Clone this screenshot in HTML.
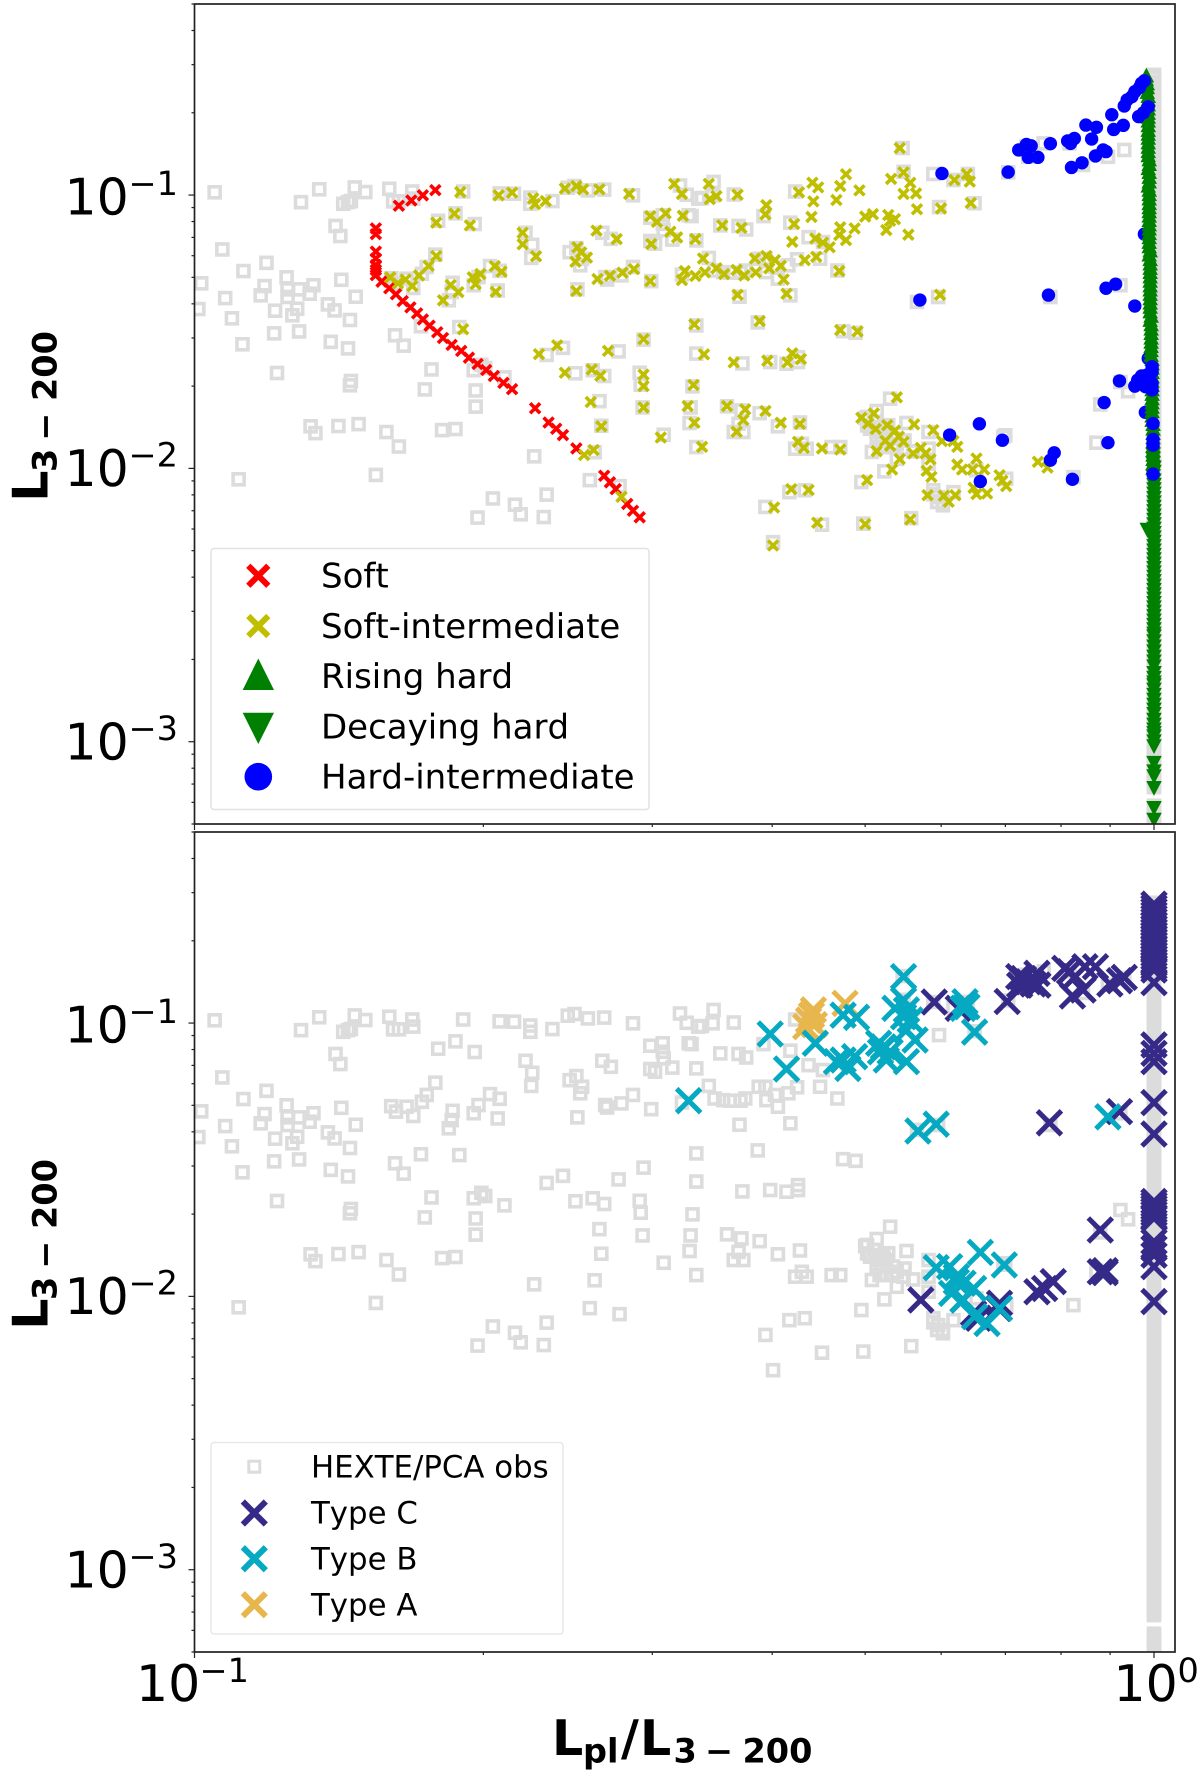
<!DOCTYPE html>
<html lang="en">
<head>
<meta charset="utf-8">
<title>Power-law fraction vs luminosity</title>
<style>
  html, body { margin: 0; padding: 0; background: #fff; }
  svg { display: block; font-family: "DejaVu Sans", "Liberation Sans", sans-serif; text-rendering: geometricPrecision; font-kerning: none; }
</style>
</head>
<body>
<svg id="chart" xmlns="http://www.w3.org/2000/svg" width="1200" height="1779" viewBox="0 0 1200 1779">
  <defs>
    <clipPath id="clip-top"><rect x="194.5" y="4" width="980.5" height="820"/></clipPath>
    <clipPath id="clip-bottom"><rect x="194.5" y="832" width="980.5" height="820"/></clipPath>
  </defs>
  <rect x="0" y="0" width="1200" height="1779" fill="#fff"/>
  <g id="panel-top-marks" clip-path="url(#clip-top)"></g>
  <g id="panel-bottom-marks" clip-path="url(#clip-bottom)"></g>
  <g id="axes"></g>

  <g>
    <rect x="211" y="548.5" width="438" height="261" rx="3" fill="#fff" fill-opacity="0.9" stroke="#e2e2e2" stroke-width="1.5"/>
    <g>
      <path d="M248.3 565.7L268.3 585.7M248.3 585.7L268.3 565.7" stroke="#ff0000" stroke-width="6" fill="none"/>
      <text x="321" y="587.7" font-size="34" fill="#000">Soft</text>
    </g>
    <g>
      <path d="M248.3 616L268.3 636M248.3 636L268.3 616" stroke="#bfbf00" stroke-width="6" fill="none"/>
      <text x="321" y="637.9" font-size="34" fill="#000">Soft-intermediate</text>
    </g>
    <g>
      <path d="M258.3 658.5L274 690H242.7Z" fill="#008000"/>
      <text x="321" y="688" font-size="34" fill="#000">Rising hard</text>
    </g>
    <g>
      <path d="M242.7 712.7H274L258.3 744Z" fill="#008000"/>
      <text x="321" y="738.3" font-size="34" fill="#000">Decaying hard</text>
    </g>
    <g>
      <circle cx="258.3" cy="776.7" r="13.8" fill="#0000ff"/>
      <text x="321" y="788.4" font-size="34" fill="#000">Hard-intermediate</text>
    </g>
  </g>

  <g>
    <rect x="211" y="1442.5" width="352" height="191.5" rx="3" fill="#fff" fill-opacity="0.9" stroke="#e8e8e8" stroke-width="1.5"/>
    <g>
      <rect x="248.8" y="1461.2" width="11" height="11" fill="none" stroke="#dcdcdc" stroke-width="3"/>
      <text x="311" y="1477.7" font-size="30.8" fill="#000">HEXTE/PCA obs</text>
    </g>
    <g>
      <path d="M242.8 1501.5L265.8 1524.5M242.8 1524.5L265.8 1501.5" stroke="#352a87" stroke-width="6" fill="none"/>
      <text x="311" y="1523.7" font-size="30.8" fill="#000">Type C</text>
    </g>
    <g>
      <path d="M242.8 1547.2L265.8 1570.2M242.8 1570.2L265.8 1547.2" stroke="#06a9c2" stroke-width="6" fill="none"/>
      <text x="311" y="1569.4" font-size="30.8" fill="#000">Type B</text>
    </g>
    <g>
      <path d="M242.8 1593.2L265.8 1616.2M242.8 1616.2L265.8 1593.2" stroke="#e7b64c" stroke-width="6" fill="none"/>
      <text x="311" y="1615.3" font-size="30.8" fill="#000">Type A</text>
    </g>
  </g>

  <text transform="translate(47.7,501.7) rotate(-90)" font-weight="bold" font-size="49" fill="#000">L<tspan x="29.7" y="9" font-size="33.5">3</tspan><tspan x="61" y="9" font-size="33.5">−</tspan><tspan x="100.7" y="9" font-size="33.5">200</tspan></text>
  <text transform="translate(47.7,1329.7) rotate(-90)" font-weight="bold" font-size="49" fill="#000">L<tspan x="29.7" y="9" font-size="33.5">3</tspan><tspan x="61" y="9" font-size="33.5">−</tspan><tspan x="100.7" y="9" font-size="33.5">200</tspan></text>
  <text x="552" y="1755" font-weight="bold" font-size="49" fill="#000">L<tspan x="583" y="1762.7" font-size="33.5">pl</tspan><tspan x="621" y="1755">/</tspan><tspan x="640" y="1755">L</tspan><tspan x="673.5" y="1762.7" font-size="33.5">3</tspan><tspan x="705" y="1762.7" font-size="33.5">−</tspan><tspan x="742.5" y="1762.7" font-size="33.5">200</tspan></text>
</svg>

<script>
// All series values are log10 quantities: [log10(Lpl/L3-200), log10(L3-200)].
const xTickExponents = [-1, 0];
const xTickLabels = ['−1', '0'];
const yTickExponents = [-1, -2, -3];
const yTickLabels = ['−1', '−2', '−3'];
const minorMultipliers = [2, 3, 4, 5, 6, 7, 8, 9];

const hexteObservations = [
[-0.979,-0.990],[-0.889,-1.026],[-0.870,-0.979],[-0.833,-0.972],[-0.822,-0.989],[-0.840,-1.026],[-0.845,-1.032],[-0.837,-1.022],[-0.797,-0.977],[-0.793,-1.023],[-0.787,-1.023],[-0.773,-0.987],[-0.772,-1.013],[-0.720,-0.987],[-0.682,-0.994],[-0.667,-0.995],[-0.650,-1.009],[-0.650,-1.032],[-0.627,-1.022],[-0.611,-0.973],[-0.604,-0.967],[-0.590,-0.983],[-0.573,-0.980],[-0.543,-1.001],[-0.494,-0.965],[-0.487,-0.999],[-0.475,-1.013],
[-0.746,-1.094],[-0.728,-1.067],[-0.708,-1.106],[-0.655,-1.138],[-0.648,-1.182],[-0.649,-1.230],[-0.853,-1.113],[-0.848,-1.150],[-0.971,-1.199],[-0.575,-1.138],[-0.566,-1.160],[-0.525,-1.083],[-0.512,-1.074],[-0.512,-1.105],[-0.511,-1.129],[-0.502,-1.163],[-0.525,-1.168],[-0.520,-1.178],[-0.485,-1.074],[-0.482,-1.077],[-0.477,-1.166],[-0.609,-1.209],[-0.602,-1.194],[-0.596,-1.233],[-0.598,-1.257],
[-0.925,-1.248],[-0.949,-1.278],[-0.904,-1.301],[-0.927,-1.333],[-0.931,-1.367],[-0.968,-1.377],[-0.993,-1.323],[-0.996,-1.417],[-0.961,-1.451],[-0.916,-1.423],[-0.903,-1.345],[-0.903,-1.373],[-0.891,-1.345],[-0.876,-1.330],[-0.880,-1.361],[-0.893,-1.416],[-0.898,-1.440],[-0.847,-1.310],[-0.832,-1.372],[-0.861,-1.400],[-0.854,-1.422],[-0.838,-1.457],[-0.917,-1.506],[-0.891,-1.499],[-0.950,-1.546],[-0.858,-1.537],[-0.840,-1.561],[-0.795,-1.304],[-0.790,-1.324],[-0.779,-1.306],[-0.772,-1.340],[-0.763,-1.288],[-0.758,-1.263],[-0.749,-1.218],[-0.731,-1.321],[-0.732,-1.355],[-0.735,-1.385],[-0.709,-1.330],[-0.704,-1.300],[-0.692,-1.260],[-0.682,-1.277],[-0.684,-1.349],[-0.601,-1.345],[-0.572,-1.300],[-0.570,-1.309],[-0.555,-1.294],[-0.543,-1.263],[-0.524,-1.315],[-0.492,-1.291],
[-0.764,-1.480],[-0.724,-1.483],[-0.791,-1.513],[-0.782,-1.551],[-0.633,-1.585],[-0.616,-1.559],[-0.558,-1.572],[-0.532,-1.529],[-0.477,-1.477],[-0.477,-1.580],
[-0.914,-1.651],[-0.753,-1.638],[-0.709,-1.641],[-0.701,-1.621],[-0.697,-1.633],[-0.677,-1.667],[-0.837,-1.680],[-0.838,-1.696],[-0.760,-1.711],[-0.707,-1.715],[-0.707,-1.774],[-0.603,-1.652],[-0.585,-1.641],[-0.573,-1.662],[-0.536,-1.650],[-0.535,-1.694],[-0.481,-1.700],[-0.578,-1.754],[-0.533,-1.777],[-0.483,-1.777],[-0.576,-1.844],[-0.484,-1.834],[-0.477,-1.922],[-0.879,-1.846],[-0.874,-1.871],[-0.850,-1.845],[-0.829,-1.838],[-0.800,-1.867],[-0.787,-1.920],[-0.742,-1.860],[-0.728,-1.856],[-0.646,-1.956],[-0.583,-1.941],[-0.511,-1.877],
[-0.954,-2.040],[-0.811,-2.024],[-0.689,-2.110],[-0.666,-2.133],[-0.660,-2.168],[-0.705,-2.180],[-0.636,-2.178],[-0.633,-2.096],[-0.588,-2.043],[-0.557,-2.065],
[-0.459,-0.952],[-0.471,-1.011],[-0.460,-1.001],[-0.438,-0.998],[-0.452,-1.111],[-0.433,-1.113],[-0.425,-1.126],[-0.407,-1.077],[-0.379,-1.101],[-0.360,-1.154],[-0.345,-1.172],[-0.412,-1.233],[-0.405,-1.233],[-0.464,-1.230],[-0.458,-1.276],[-0.449,-1.282],[-0.442,-1.284],[-0.431,-1.284],[-0.426,-1.276],[-0.404,-1.282],[-0.395,-1.263],[-0.392,-1.306],[-0.381,-1.257],[-0.372,-1.235],[-0.348,-1.233],[-0.330,-1.276],[-0.432,-1.372],[-0.379,-1.367],[-0.413,-1.466],[-0.324,-1.498],[-0.311,-1.504],[-0.224,-1.044],[-0.374,-0.987],
[-0.429,-1.616],[-0.400,-1.611],[-0.383,-1.617],[-0.371,-1.593],[-0.371,-1.611],[-0.445,-1.773],[-0.430,-1.788],[-0.411,-1.798],[-0.433,-1.837],[-0.438,-1.867],[-0.428,-1.867],[-0.392,-1.846],[-0.369,-1.832],[-0.374,-1.928],[-0.362,-1.928],[-0.367,-1.910],[-0.336,-1.922],[-0.327,-1.922],
[-0.275,-1.745],[-0.289,-1.790],[-0.301,-1.816],[-0.299,-1.843],[-0.286,-1.849],[-0.258,-1.834],[-0.289,-1.867],[-0.279,-1.867],[-0.284,-1.891],[-0.272,-1.891],[-0.279,-1.922],[-0.294,-1.940],[-0.260,-1.898],[-0.268,-1.965],[-0.251,-1.938],[-0.235,-1.867],[-0.281,-2.011],[-0.305,-2.050],[-0.364,-2.080],[-0.380,-2.087],[-0.405,-2.141],[-0.346,-2.206],[-0.303,-2.202],[-0.253,-2.182],[-0.397,-2.270],[-0.230,-2.095],[-0.220,-2.123],[-0.225,-2.105],[-0.209,-2.087],[-0.084,-2.032],[-0.035,-1.684],[-0.027,-1.718],[-0.235,-1.928],[-0.235,-1.983],[-0.155,-1.879],[-0.185,-2.007],[-0.154,-2.038],
[-0.296,-1.855],[-0.282,-1.855],[-0.289,-1.891],[-0.272,-1.922],[-0.286,-1.922],[-0.268,-1.910],[-0.261,-1.928],[-0.299,-1.812],[-0.292,-1.830],[-0.277,-1.842],[-0.230,-2.080],[-0.220,-2.135],[-0.226,-2.123],
[-0.031,-0.835],[-0.048,-0.860],[-0.074,-0.890],[-0.088,-0.811],[-0.152,-0.917],[-0.230,-0.923],[-0.194,-0.923],[-0.209,-0.945],[-0.133,-0.823],[-0.115,-0.811],[-0.131,-0.860],[-0.262,-0.828],[-0.187,-1.030],[-0.261,-0.915],[-0.247,-1.391],[-0.108,-1.373],[-0.035,-1.330],[-0.225,-1.373],[-0.056,-1.766],[-0.060,-1.906],[-0.157,-1.884]
];

const hexteHardColumnX = 0;
const hexteHardColumnY = [
-0.560,-0.571,-0.585,-0.597,-0.609,-0.623,-0.634,-0.648,-0.659,-0.673,-0.684,-0.697,-0.711,-0.722,-0.735,-0.746,-0.760,-0.772,-0.785,-0.796,-0.810,-0.822,-0.835,-0.847,-0.859,-0.873,-0.884,-0.897,-0.910,-0.921,-0.935,-0.946,-0.960,-0.972,-0.984,-0.997,-1.009,-1.023,-1.034,-1.047,-1.060,-1.071,-1.085,-1.096,-1.110,-1.121,-1.134,-1.147,-1.159,-1.172,-1.185,-1.197,-1.209,-1.223,-1.234,-1.247,-1.260,-1.271,-1.285,-1.297,-1.310,-1.322,-1.334,-1.347,-1.359,-1.372,-1.384,-1.398,-1.409,-1.422,-1.434,-1.446,-1.460,-1.471,-1.485,-1.497,-1.509,-1.522,-1.535,-1.547,-1.559,-1.572,-1.584,-1.597,-1.610,-1.621,-1.635,-1.646,-1.660,-1.672,-1.684,-1.697,-1.709,-1.722,-1.734,-1.748,-1.759,-1.772,-1.785,-1.796,-1.810,-1.821,-1.835,-1.847,-1.859,-1.872,-1.884,-1.898,-1.909,-1.922,-1.935,-1.946,-1.960,-1.971,-1.984,-1.997,-2.009,-2.022,-2.034,-2.047,-2.060,-2.071,-2.085,-2.097,-2.109,-2.122,-2.134,-2.148,-2.159,-2.172,-2.184,-2.197,-2.210,-2.221,-2.235,-2.246,-2.260,-2.272,-2.284,-2.297,-2.310,-2.322,-2.334,-2.347,-2.359,-2.373,-2.384,-2.397,-2.409,-2.422,-2.435,-2.446,-2.460,-2.471,-2.484,-2.497,-2.510,-2.522,-2.534,-2.547,-2.559,-2.572,-2.585,-2.596,-2.610,-2.622,-2.634,-2.647,-2.659,-2.673,-2.684,-2.697,-2.710,-2.722,-2.735,-2.746,-2.760,-2.771,-2.784,-2.797,-2.809,-2.823,-2.834,-2.847,-2.859,-2.872,-2.885,-2.896,-2.910,-2.922,-2.934,-2.947,-2.960,-2.971,-2.985,-2.997,-3.009,-3.022,-3.034,-3.047,-3.059,-3.073,-3.084,-3.097,-3.110,-3.121,-3.135,-3.146,-3.156,-3.166,-3.234,-3.245,-3.258,-3.270,-3.282,-3.294,-3.306,-3.318
];

const softPoints = [
[-0.787,-1.039],[-0.774,-1.020],[-0.762,-1.001],[-0.749,-0.982],[-0.811,-1.122],[-0.811,-1.143],[-0.811,-1.207],[-0.811,-1.232],[-0.811,-1.256],[-0.811,-1.274],[-0.811,-1.293],[-0.805,-1.317],[-0.797,-1.341],[-0.790,-1.363],[-0.783,-1.388],[-0.775,-1.411],[-0.768,-1.433],[-0.762,-1.455],[-0.755,-1.478],[-0.747,-1.502],[-0.741,-1.523],[-0.732,-1.548],[-0.722,-1.570],[-0.714,-1.595],[-0.705,-1.618],[-0.696,-1.640],[-0.688,-1.662],[-0.678,-1.687],[-0.669,-1.710],[-0.645,-1.780],[-0.631,-1.832],[-0.623,-1.855],[-0.616,-1.878],[-0.602,-1.927],[-0.573,-2.027],[-0.567,-2.051],[-0.561,-2.076],[-0.549,-2.130],[-0.543,-2.155],[-0.536,-2.179]
];

const softIntermediatePoints = [
[-0.723,-0.989],[-0.683,-1.001],[-0.669,-0.991],[-0.647,-1.012],[-0.645,-1.033],[-0.634,-1.022],[-0.614,-0.976],[-0.602,-0.967],[-0.595,-0.979],[-0.578,-0.979],[-0.547,-0.996],[-0.500,-0.959],[-0.492,-0.996],[-0.729,-1.068],[-0.748,-1.101],[-0.713,-1.111],[-0.658,-1.138],[-0.658,-1.180],[-0.644,-1.224],[-0.581,-1.130],[-0.560,-1.161],[-0.525,-1.077],[-0.518,-1.098],[-0.509,-1.067],[-0.491,-1.076],[-0.504,-1.134],[-0.497,-1.155],[-0.524,-1.179],[-0.478,-1.161],[-0.601,-1.191],[-0.597,-1.210],[-0.591,-1.229],[-0.603,-1.244],[-0.748,-1.223],[-0.756,-1.259],[-0.766,-1.294],[-0.796,-1.301],[-0.780,-1.309],[-0.788,-1.323],[-0.773,-1.333],[-0.733,-1.329],[-0.725,-1.355],[-0.741,-1.385],[-0.710,-1.301],[-0.702,-1.289],[-0.707,-1.326],[-0.687,-1.260],[-0.680,-1.280],[-0.686,-1.354],[-0.580,-1.307],[-0.567,-1.295],[-0.554,-1.284],[-0.542,-1.271],[-0.525,-1.315],[-0.602,-1.351],[-0.489,-1.278],[-0.492,-1.311],[-0.478,-1.296],[-0.720,-1.491],[-0.641,-1.582],[-0.622,-1.550],[-0.569,-1.570],[-0.532,-1.527],[-0.479,-1.473],[-0.614,-1.650],[-0.586,-1.638],[-0.577,-1.661],[-0.532,-1.657],[-0.532,-1.699],[-0.480,-1.695],[-0.587,-1.757],[-0.532,-1.777],[-0.486,-1.772],[-0.576,-1.846],[-0.479,-1.833],[-0.514,-1.887],[-0.584,-1.933],[-0.594,-1.951],[-0.555,-2.104],
[-0.265,-0.828],[-0.261,-0.917],[-0.274,-0.941],[-0.254,-0.955],[-0.195,-0.923],[-0.208,-0.945],[-0.192,-0.951],[-0.321,-0.924],[-0.356,-0.955],[-0.350,-0.972],[-0.327,-0.967],[-0.307,-0.983],[-0.370,-0.990],[-0.331,-1.018],[-0.261,-0.996],[-0.248,-0.994],[-0.355,-1.023],[-0.464,-0.959],[-0.463,-1.015],[-0.456,-1.004],[-0.434,-0.999],[-0.404,-1.037],[-0.405,-1.071],[-0.357,-1.080],[-0.375,-1.106],[-0.247,-1.052],[-0.222,-1.049],[-0.191,-1.029],[-0.450,-1.111],[-0.430,-1.120],[-0.377,-1.171],[-0.353,-1.159],[-0.345,-1.174],[-0.338,-1.191],[-0.327,-1.118],[-0.328,-1.146],[-0.321,-1.165],[-0.312,-1.122],[-0.301,-1.079],[-0.293,-1.070],[-0.277,-1.073],[-0.270,-1.088],[-0.275,-1.094],[-0.279,-1.128],[-0.256,-1.145],[-0.470,-1.232],[-0.468,-1.283],[-0.456,-1.268],[-0.448,-1.289],[-0.435,-1.274],[-0.427,-1.294],[-0.415,-1.283],[-0.416,-1.232],[-0.404,-1.223],[-0.395,-1.238],[-0.389,-1.259],[-0.401,-1.268],[-0.364,-1.238],[-0.352,-1.226],[-0.328,-1.278],[-0.386,-1.309],[-0.434,-1.365],[-0.383,-1.361],[-0.411,-1.461],[-0.327,-1.494],[-0.309,-1.499],[-0.223,-1.365],[-0.469,-1.583],[-0.438,-1.612],[-0.403,-1.606],[-0.382,-1.612],[-0.377,-1.579],[-0.368,-1.600],[-0.268,-1.740],[-0.445,-1.772],[-0.426,-1.784],[-0.405,-1.790],
[-0.428,-1.823],[-0.435,-1.866],[-0.389,-1.833],[-0.369,-1.837],[-0.371,-1.903],[-0.365,-1.925],[-0.346,-1.927],[-0.327,-1.931],[-0.471,-1.921],[-0.305,-1.815],[-0.292,-1.799],[-0.298,-1.836],[-0.290,-1.856],[-0.278,-1.842],[-0.270,-1.862],[-0.250,-1.839],[-0.230,-1.860],[-0.280,-1.899],[-0.289,-1.937],[-0.275,-1.917],[-0.266,-1.884],[-0.261,-1.903],[-0.265,-1.966],[-0.251,-1.945],[-0.243,-1.925],[-0.238,-1.945],[-0.233,-1.967],[-0.273,-2.004],[-0.237,-2.009],[-0.232,-2.031],[-0.221,-1.900],[-0.209,-1.900],[-0.205,-1.921],[-0.185,-1.964],[-0.205,-1.986],[-0.200,-2.004],[-0.189,-2.004],[-0.177,-2.004],[-0.161,-2.025],[-0.158,-2.045],[-0.154,-2.065],[-0.188,-2.071],[-0.185,-2.094],[-0.174,-2.092],[-0.121,-1.976],[-0.111,-1.997],[-0.299,-2.043],[-0.236,-2.098],[-0.219,-2.100],[-0.207,-2.098],[-0.214,-2.122],[-0.378,-2.076],[-0.360,-2.079],[-0.396,-2.143],[-0.351,-2.199],[-0.301,-2.204],[-0.254,-2.187],[-0.397,-2.282]
];

const hardIntermediateBehind = [
[-0.010,-1.143],[-0.009,-1.795],[-0.006,-1.598]
];

const risingHardPoints = [
[-0.008,-0.561],[-0.008,-0.575],[-0.007,-0.590],[-0.007,-0.604],[-0.007,-0.621],[-0.006,-0.636],[-0.006,-0.649],[-0.006,-0.667],[-0.006,-0.682],[-0.006,-0.698],[-0.006,-0.712],[-0.006,-0.726],[-0.006,-0.743],[-0.006,-0.760],[-0.006,-0.774],[-0.006,-0.789],[-0.006,-0.806],[-0.006,-0.822],[-0.006,-0.838],[-0.006,-0.853],[-0.005,-0.868],[-0.005,-0.885],[-0.006,-0.900],[-0.005,-0.914],[-0.005,-0.932],[-0.005,-0.949],[-0.006,-0.964],[-0.005,-0.979],[-0.005,-0.995],[-0.005,-1.011],[-0.005,-1.028],[-0.005,-1.043],[-0.005,-1.058],[-0.005,-1.074],[-0.005,-1.090],[-0.005,-1.106],[-0.005,-1.121],[-0.005,-1.138],[-0.005,-1.153],[-0.005,-1.170],[-0.005,-1.186],[-0.004,-1.201],[-0.005,-1.216],[-0.004,-1.233],[-0.004,-1.249],[-0.004,-1.265],[-0.004,-1.280],[-0.004,-1.296],[-0.004,-1.312],[-0.004,-1.329],[-0.004,-1.344],[-0.004,-1.360],[-0.004,-1.376],[-0.004,-1.392],[-0.004,-1.407],[-0.004,-1.424],[-0.003,-1.440],[-0.004,-1.455],[-0.003,-1.471],[-0.003,-1.487],[-0.003,-1.503],[-0.003,-1.520],[-0.003,-1.535],[-0.003,-1.551],[-0.003,-1.566],[-0.003,-1.583],[-0.002,-1.598],[-0.002,-1.614],[-0.002,-1.630],[-0.002,-1.646],[-0.002,-1.662],[-0.002,-1.678],[-0.002,-1.693],[-0.002,-1.709],[-0.002,-1.726],[-0.002,-1.742],[-0.002,-1.757],[-0.002,-1.773],[-0.002,-1.789],[-0.002,-1.805],[-0.002,-1.821],[-0.001,-1.836],[-0.001,-1.853],[-0.001,-1.869],[-0.001,-1.884],[-0.001,-1.900],[-0.001,-1.916],[-0.001,-1.932],[-0.001,-1.948],[-0.001,-1.964],[-0.001,-1.980],[-0.001,-1.996]
];

const decayingHardPoints = [
[-0.007,-2.226],[-0.001,-1.950],[-0.001,-1.966],[-0.001,-1.982],[0.000,-1.998],[0.000,-2.014],[-0.001,-2.030],[0.000,-2.046],[0.000,-2.062],[0.000,-2.078],[0.000,-2.094],[0.000,-2.110],[0.000,-2.126],[0.000,-2.142],[0.000,-2.158],[0.000,-2.174],[0.000,-2.190],[0.000,-2.206],[0.000,-2.222],[0.000,-2.238],[0.000,-2.254],[0.000,-2.270],[0.000,-2.286],[0.000,-2.302],[0.000,-2.318],[0.000,-2.334],[0.000,-2.350],[0.000,-2.366],[0.000,-2.382],[0.000,-2.398],[0.000,-2.414],[0.000,-2.430],[0.000,-2.446],[0.000,-2.462],[0.000,-2.478],[0.000,-2.494],[0.000,-2.510],[0.000,-2.526],[0.000,-2.542],[0.000,-2.558],[0.000,-2.574],[0.000,-2.590],[0.000,-2.606],[0.000,-2.616],[0.000,-2.634],[0.000,-2.653],[0.000,-2.671],[0.000,-2.690],[0.000,-2.708],[0.000,-2.726],[0.000,-2.750],[0.000,-2.768],[0.000,-2.785],[0.000,-2.795],[0.000,-2.811],[0.000,-2.830],[0.000,-2.848],[0.000,-2.866],[0.000,-2.884],[0.000,-2.900],[0.000,-2.921],[0.000,-2.939],[0.000,-2.957],[0.000,-2.970],[0.000,-2.982],[0.000,-3.000],[0.000,-3.018],[0.000,-3.079],[0.000,-3.110],[0.000,-3.128],[0.000,-3.171],[0.000,-3.244],[0.000,-3.287]
];

const hardIntermediatePoints = [
[-0.221,-0.921],[-0.152,-0.916],[-0.141,-0.835],[-0.133,-0.815],[-0.128,-0.820],[-0.131,-0.862],[-0.121,-0.862],[-0.108,-0.812],[-0.090,-0.802],[-0.087,-0.811],[-0.083,-0.793],[-0.065,-0.795],[-0.071,-0.744],[-0.060,-0.752],[-0.086,-0.899],[-0.075,-0.882],[-0.061,-0.857],[-0.053,-0.835],[-0.050,-0.841],[-0.044,-0.706],[-0.042,-0.760],[-0.032,-0.745],[-0.031,-0.674],[-0.028,-0.652],[-0.023,-0.640],[-0.020,-0.622],[-0.015,-0.606],[-0.013,-0.591],[-0.010,-0.582],[-0.016,-0.713],[-0.011,-0.699],[-0.006,-0.677],[-0.244,-1.384],[-0.110,-1.366],[-0.050,-1.341],[-0.040,-1.326],[-0.020,-1.406],[-0.036,-1.680],[-0.052,-1.759],[-0.020,-1.699],[-0.017,-1.677],[-0.013,-1.662],[-0.008,-1.659],[-0.002,-1.646],[-0.002,-1.628],[-0.006,-1.683],[-0.011,-1.695],[-0.002,-1.713],[-0.002,-1.689],[-0.009,-1.701],[-0.008,-1.672],[-0.014,-1.683],[-0.001,-1.836],[-0.001,-1.894],[-0.001,-1.915],[-0.001,-2.021],[-0.085,-2.040],[-0.048,-1.906],[-0.108,-1.970],[-0.104,-1.943],[-0.158,-1.897],[-0.182,-1.837],[-0.213,-1.878],[-0.181,-2.048]
];

const typeCPoints = [
[-0.229,-0.923],[-0.204,-0.946],[-0.153,-0.921],[-0.141,-0.830],[-0.136,-0.837],[-0.131,-0.849],[-0.126,-0.857],[-0.121,-0.861],[-0.140,-0.861],[-0.122,-0.818],[-0.093,-0.800],[-0.088,-0.812],[-0.082,-0.830],[-0.072,-0.794],[-0.061,-0.794],[-0.074,-0.879],[-0.085,-0.901],[-0.046,-0.857],[-0.031,-0.833],[-0.036,-0.845],
[0.000,-0.565],[0.000,-0.577],[0.000,-0.589],[0.000,-0.602],[0.000,-0.614],[0.000,-0.626],[0.000,-0.638],[0.000,-0.651],[0.000,-0.663],[0.000,-0.675],[0.000,-0.687],[0.000,-0.699],[0.000,-0.711],[0.000,-0.723],[0.000,-0.736],[0.000,-0.748],[0.000,-0.760],[0.000,-0.772],[0.000,-0.784],[0.000,-0.795],[0.000,-0.806],[0.000,-0.852],[0.000,-1.080],[0.000,-1.111],[0.000,-1.141],[0.000,-1.291],[0.000,-1.406],
[-0.109,-1.365],[-0.036,-1.324],[0.000,-1.653],[0.000,-1.664],[0.000,-1.675],[0.000,-1.686],[0.000,-1.697],[0.000,-1.709],[0.000,-1.714],[0.000,-1.800],[0.000,-1.824],[0.000,-1.849],[0.000,-1.891],[0.000,-2.019],
[-0.056,-1.757],[-0.056,-1.910],[-0.051,-1.906],[-0.051,-1.913],[-0.105,-1.946],[-0.114,-1.971],[-0.122,-1.983],[-0.243,-2.013],[-0.188,-2.062],[-0.183,-2.080],[-0.161,-2.025],[-0.162,-2.044],[-0.199,-2.013]
];

const typeAPoints = [
[-0.322,-0.928],[-0.355,-0.952],[-0.357,-0.971],[-0.360,-0.989],[-0.363,-1.013],[-0.354,-1.006]
];

const typeBPoints = [
[-0.261,-0.830],[-0.261,-0.916],[-0.400,-1.040],[-0.353,-1.074],[-0.383,-1.168],[-0.324,-0.971],[-0.310,-0.979],[-0.485,-1.284],[-0.270,-0.946],[-0.258,-0.952],[-0.254,-0.989],[-0.261,-0.977],[-0.258,-1.026],[-0.249,-1.062],[-0.197,-0.922],[-0.195,-0.940],[-0.199,-0.946],[-0.187,-1.033],[-0.287,-1.074],[-0.282,-1.087],[-0.275,-1.105],[-0.285,-1.105],[-0.279,-1.135],[-0.258,-1.141],[-0.331,-1.141],[-0.324,-1.135],[-0.319,-1.166],[-0.312,-1.123],[-0.246,-1.395],[-0.227,-1.370],[-0.048,-1.343],
[-0.227,-1.895],[-0.213,-1.891],[-0.181,-1.839],[-0.156,-1.885],[-0.206,-1.946],[-0.199,-1.952],[-0.211,-1.989],[-0.188,-1.971],[-0.199,-2.013],[-0.187,-2.074],[-0.174,-2.099],[-0.161,-2.044],[-0.206,-1.928]
];

const SVG_NS = 'http://www.w3.org/2000/svg';
const X_LOG_MIN = -1;
const Y_LOG_MAX = -0.301;
const X_LEFT = 194.5;
const X_RIGHT = 1175;
const X_PER_DEX = 959.5;
const Y_PER_DEX = 273.33;
const PANEL_HEIGHT = 820;
const TOP_PANEL = 4;
const BOTTOM_PANEL = 832;

function xAxis(logValue) {
  return X_LEFT + (logValue - X_LOG_MIN) * X_PER_DEX;
}
function yAxis(logValue, panelTop) {
  return panelTop + (Y_LOG_MAX - logValue) * Y_PER_DEX;
}
function make(tag) {
  return document.createElementNS(SVG_NS, tag);
}

function drawSquare(parent, lx, ly, panelTop) {
  const el = make('rect');
  
  
  el.setAttribute('x', (xAxis(lx) - 5.5).toFixed(2));
  el.setAttribute('y', (yAxis(ly, panelTop) - 5.5).toFixed(2));
  el.setAttribute('width', 11);
  el.setAttribute('height', 11);
  el.setAttribute('fill', 'none');
  el.setAttribute('stroke', '#dcdcdc');
  el.setAttribute('stroke-width', 3.6);
  parent.appendChild(el);
}
function drawCross(parent, name, lx, ly, panelTop, half, width, color) {
  const x = xAxis(lx);
  const y = yAxis(ly, panelTop);
  const el = make('path');
  
  
  el.setAttribute('d', 'M' + (x - half).toFixed(2) + ' ' + (y - half).toFixed(2) + 'L' + (x + half).toFixed(2) + ' ' + (y + half).toFixed(2) + 'M' + (x - half).toFixed(2) + ' ' + (y + half).toFixed(2) + 'L' + (x + half).toFixed(2) + ' ' + (y - half).toFixed(2));
  el.setAttribute('stroke', color);
  el.setAttribute('stroke-width', width);
  el.setAttribute('fill', 'none');
  parent.appendChild(el);
}
function drawTriangle(parent, name, lx, ly, panelTop, dir) {
  const x = xAxis(lx);
  const y = yAxis(ly, panelTop);
  const el = make('path');
  
  
  el.setAttribute('d', 'M' + x.toFixed(2) + ' ' + (y - dir * 7.4).toFixed(2) + 'L' + (x + 7.8).toFixed(2) + ' ' + (y + dir * 7.4).toFixed(2) + 'L' + (x - 7.8).toFixed(2) + ' ' + (y + dir * 7.4).toFixed(2) + 'Z');
  el.setAttribute('fill', '#008000');
  parent.appendChild(el);
}
function drawDot(parent, lx, ly, panelTop) {
  const el = make('circle');
  
  
  el.setAttribute('cx', xAxis(lx).toFixed(2));
  el.setAttribute('cy', yAxis(ly, panelTop).toFixed(2));
  el.setAttribute('r', 6.7);
  el.setAttribute('fill', '#0000ff');
  parent.appendChild(el);
}

function drawObservations(parent, panelTop) {
  hexteObservations.forEach(function (p) { drawSquare(parent, p[0], p[1], panelTop); });
  hexteHardColumnY.forEach(function (v) { drawSquare(parent, hexteHardColumnX, v, panelTop); });
}

const topMarks = document.getElementById('panel-top-marks');
const bottomMarks = document.getElementById('panel-bottom-marks');

drawObservations(topMarks, TOP_PANEL);
softPoints.forEach(function (p) { drawCross(topMarks, 'soft-point', p[0], p[1], TOP_PANEL, 5, 3.6, '#ff0000'); });
softIntermediatePoints.forEach(function (p) { drawCross(topMarks, 'soft-intermediate-point', p[0], p[1], TOP_PANEL, 5, 3.6, '#bfbf00'); });
hardIntermediateBehind.forEach(function (p) { drawDot(topMarks, p[0], p[1], TOP_PANEL); });
risingHardPoints.forEach(function (p) { drawTriangle(topMarks, 'rising-hard-point', p[0], p[1], TOP_PANEL, 1); });
decayingHardPoints.forEach(function (p) { drawTriangle(topMarks, 'decaying-hard-point', p[0], p[1], TOP_PANEL, -1); });
hardIntermediatePoints.forEach(function (p) { drawDot(topMarks, p[0], p[1], TOP_PANEL); });

drawObservations(bottomMarks, BOTTOM_PANEL);
typeCPoints.forEach(function (p) { drawCross(bottomMarks, 'type-c-qpo', p[0], p[1], BOTTOM_PANEL, 12, 5, '#352a87'); });
typeAPoints.forEach(function (p) { drawCross(bottomMarks, 'type-a-qpo', p[0], p[1], BOTTOM_PANEL, 12, 5, '#e7b64c'); });
typeBPoints.forEach(function (p) { drawCross(bottomMarks, 'type-b-qpo', p[0], p[1], BOTTOM_PANEL, 12, 5, '#06a9c2'); });

const axesGroup = document.getElementById('axes');

function tickLine(name, x1, y1, x2, y2) {
  const el = make('line');
  
  
  el.setAttribute('x1', x1.toFixed(2));
  el.setAttribute('y1', y1.toFixed(2));
  el.setAttribute('x2', x2.toFixed(2));
  el.setAttribute('y2', y2.toFixed(2));
  el.setAttribute('stroke', '#222');
  el.setAttribute('stroke-width', 1.2);
  axesGroup.appendChild(el);
}

function powerLabel(name, x, y, supX, supY, exponent) {
  const el = make('text');
  
  
  el.setAttribute('x', x);
  el.setAttribute('y', y.toFixed(2));
  el.setAttribute('font-size', 50.5);
  el.setAttribute('fill', '#000');
  el.textContent = '10';
  const sup = make('tspan');
  sup.setAttribute('x', supX);
  sup.setAttribute('y', supY.toFixed(2));
  sup.setAttribute('font-size', 33.5);
  sup.textContent = exponent;
  el.appendChild(sup);
  axesGroup.appendChild(el);
}

[TOP_PANEL, BOTTOM_PANEL].forEach(function (panelTop) {
  const frame = make('rect');
  
  
  frame.setAttribute('x', X_LEFT);
  frame.setAttribute('y', panelTop);
  frame.setAttribute('width', X_RIGHT - X_LEFT);
  frame.setAttribute('height', PANEL_HEIGHT);
  frame.setAttribute('fill', 'none');
  frame.setAttribute('stroke', '#222');
  frame.setAttribute('stroke-width', 1.7);
  axesGroup.appendChild(frame);

  const baseY = panelTop + PANEL_HEIGHT;
  xTickExponents.forEach(function (e) {
    tickLine('x-major-tick', xAxis(e), baseY, xAxis(e), baseY + 6);
    minorMultipliers.forEach(function (m) {
      const lv = e + Math.log10(m);
      if (xAxis(lv) < X_RIGHT) {
        tickLine('x-minor-tick', xAxis(lv), baseY, xAxis(lv), baseY + 3);
      }
    });
  });

  yTickExponents.concat([-4]).forEach(function (e) {
    if (e > -4) {
      tickLine('y-major-tick', X_LEFT - 6, yAxis(e, panelTop), X_LEFT, yAxis(e, panelTop));
    }
    minorMultipliers.forEach(function (m) {
      const lv = e + Math.log10(m);
      const py = yAxis(lv, panelTop);
      if (py > panelTop && py < baseY) {
        tickLine('y-minor-tick', X_LEFT - 3, py, X_LEFT, py);
      }
    });
  });

  yTickExponents.forEach(function (e, i) {
    const py = yAxis(e, panelTop);
    const offset = e === -1 ? 19.5 : 17.6;
    powerLabel('y-tick-label', 64.5, py + offset, 128.5, py + offset - 19.5, yTickLabels[i]);
  });
});

powerLabel('x-tick-label', 136, 1701, 199.5, 1682, xTickLabels[0]);
powerLabel('x-tick-label', 1113.5, 1701, 1177.5, 1682, xTickLabels[1]);
</script>
</body>
</html>
